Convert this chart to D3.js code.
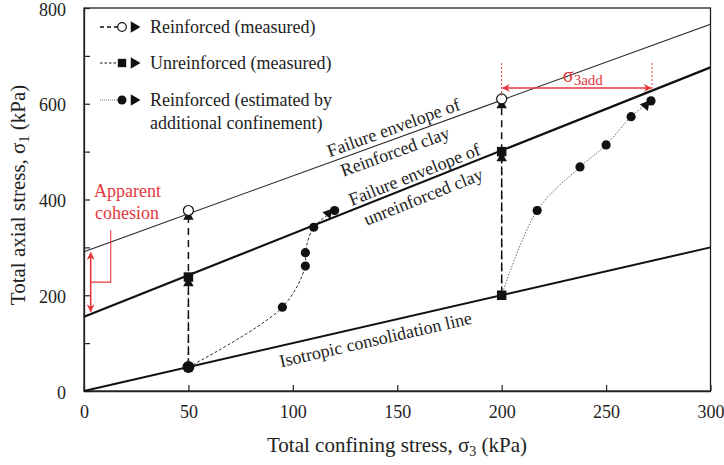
<!DOCTYPE html>
<html><head><meta charset="utf-8">
<script src="https://cdn.jsdelivr.net/npm/d3@7"></script>
<style>
html,body{margin:0;padding:0;background:#fff;}
svg{display:block;font-family:"Liberation Serif","Times New Roman",serif;}
</style></head><body>
<svg id="chart" width="724" height="465"></svg>
<script>
// axis ticks (kPa)
const xTicks = [0, 50, 100, 150, 200, 250, 300];
const yTicks = [0, 100, 200, 300, 400, 500, 600, 700, 800];
const yLabelled = [0, 200, 400, 600, 800];

// straight reference lines, [σ3, σ1] end points (kPa)
const consolidationLine = [[0, 0], [300, 300]];
const unreinforcedEnvelope = [[0, 155], [300, 676]];
const reinforcedEnvelope = [[0, 291], [300, 766]];

// measured tests: isotropic start state and state at failure
const startSigma3 = [50, 200];
const startSigma1 = [50, 200];
const reinforcedFailure = [377, 610];
const reinforcedArrow = [364, 597];
const unreinforcedFailure = [238, 500];
const unreinforcedArrow = [225, 486];

// reinforced, estimated by additional confinement
const estSigma3A = [95, 106, 106, 110, 120];
const estSigma1A = [175, 261, 289, 342, 377];
const estArrowA = [117, 371];
const estSigma3B = [217, 237.5, 250, 262, 271.5];
const estSigma1B = [377, 468, 514, 573, 606];
const estArrowB = [269, 597];

// annotations (kPa)
const cohesionArrow = {s3: 3.2, from: 166, to: 289, bracketS3: 12.8, bracketTop: 336};
const addConfinement = {from: 200, to: 272, s1: 633, guideTop: 685, guideBottom: [616, 628]};

const RED = "#e3373d";
const svg = d3.select("#chart");
const x = d3.scaleLinear().domain([0, 300]).range([84, 710.5]);
const y = d3.scaleLinear().domain([0, 800]).range([391, 8]);

// frame
svg.append("rect").attr("x", x(0)).attr("y", y(800))
  .attr("width", x(300) - x(0)).attr("height", y(0) - y(800))
  .attr("fill", "none").attr("stroke", "#222").attr("stroke-width", 1.3);

const xAxis = d3.axisBottom(x).tickValues(xTicks).tickSizeInner(-6).tickSizeOuter(0).tickPadding(14);
const gx = svg.append("g").attr("transform", `translate(0,${y(0)})`).call(xAxis);
const yAxis = d3.axisLeft(y).tickValues(yTicks).tickSizeInner(-6).tickSizeOuter(0).tickPadding(18)
  .tickFormat(d => yLabelled.includes(d) ? d : "");
const gy = svg.append("g").attr("transform", `translate(${x(0)},0)`).call(yAxis);
[gx, gy].forEach(g => {
  g.select(".domain").attr("stroke", "#222").attr("stroke-width", 1.3);
  g.selectAll(".tick line").attr("stroke", "#222").attr("stroke-width", 1.2);
  g.selectAll(".tick text").attr("font-family", "Liberation Serif").attr("font-size", 18).attr("fill", "#222");
});
gx.selectAll(".tick text").attr("dy", "0.71em");
gy.selectAll(".tick text").attr("dy", "0.4em");

// axis titles
const xt = svg.append("text").attr("x", 397).attr("y", 452).attr("text-anchor", "middle")
  .attr("font-size", 21).attr("fill", "#222");
xt.append("tspan").text("Total confining stress, σ");
xt.append("tspan").attr("font-size", 14).attr("dy", 4).text("3");
xt.append("tspan").attr("dy", -4).text(" (kPa)");
const yt = svg.append("text").attr("transform", `translate(25,${195}) rotate(-90)`)
  .attr("text-anchor", "middle").attr("font-size", 21).attr("fill", "#222");
yt.append("tspan").text("Total axial stress, σ");
yt.append("tspan").attr("font-size", 14).attr("dy", 4).text("1");
yt.append("tspan").attr("dy", -4).text(" (kPa)");

const line = d3.line().x(d => x(d[0])).y(d => y(d[1]));
const plot = svg.append("g");

// reference lines
plot.append("path").attr("d", line(consolidationLine)).attr("fill", "none").attr("stroke", "#111").attr("stroke-width", 2);
plot.append("path").attr("d", line(unreinforcedEnvelope)).attr("fill", "none").attr("stroke", "#111").attr("stroke-width", 2.2);
plot.append("path").attr("d", line(reinforcedEnvelope)).attr("fill", "none").attr("stroke", "#222").attr("stroke-width", 1.1);

// line labels, rotated along their line
function angleOf(seg) {
  return Math.atan2(y(seg[1][1]) - y(seg[0][1]), x(seg[1][0]) - x(seg[0][0])) * 180 / Math.PI;
}
function valueAt(seg, s3) {
  const k = (seg[1][1] - seg[0][1]) / (seg[1][0] - seg[0][0]);
  return seg[0][1] + k * (s3 - seg[0][0]);
}
function lineLabel(seg, s3, dy, txt) {
  svg.append("text")
    .attr("transform", `translate(${x(s3)},${y(valueAt(seg, s3))}) rotate(${angleOf(seg)})`)
    .attr("dy", dy).attr("text-anchor", "middle").attr("font-size", 18).attr("fill", "#222")
    .text(txt);
}
lineLabel(reinforcedEnvelope, 150, -5, "Failure envelope of");
lineLabel(reinforcedEnvelope, 147, 18, "Reinforced clay");
lineLabel(unreinforcedEnvelope, 160, -4, "Failure envelope of");
lineLabel(unreinforcedEnvelope, 160, 20, "unreinforced clay");
lineLabel(consolidationLine, 138, 21, "Isotropic consolidation line");

// measured stress paths (vertical, constant σ3)
startSigma3.forEach((s3, i) => {
  plot.append("path").attr("d", line([[s3, startSigma1[i]], [s3, unreinforcedFailure[i]]]))
    .attr("fill", "none").attr("stroke", "#111").attr("stroke-width", 1.3).attr("stroke-dasharray", "3,3");
  plot.append("path").attr("d", line([[s3, startSigma1[i]], [s3, reinforcedFailure[i]]]))
    .attr("fill", "none").attr("stroke", "#111").attr("stroke-width", 1.5).attr("stroke-dasharray", "7,5");
});

// estimated paths
const curve = d3.line().x(d => x(d[0])).y(d => y(d[1])).curve(d3.curveCatmullRom.alpha(0.5));
const estA = [[startSigma3[0], startSigma1[0]]].concat(estSigma3A.map((s, i) => [s, estSigma1A[i]]));
const estB = [[startSigma3[1], startSigma1[1]]].concat(estSigma3B.map((s, i) => [s, estSigma1B[i]]));
plot.append("path").attr("d", curve(estA)).attr("fill", "none").attr("stroke", "#333")
  .attr("stroke-width", 1).attr("stroke-dasharray", "3,2");
plot.append("path").attr("d", curve(estB)).attr("fill", "none").attr("stroke", "#555")
  .attr("stroke-width", 0.9).attr("stroke-dasharray", "1.5,1.5");

// markers
const tri = d3.symbol().type(d3.symbolTriangle).size(48);
const sq = d3.symbol().type(d3.symbolSquare).size(90);
function triangle(s3, s1, rot) {
  plot.append("path").attr("d", tri()).attr("fill", "#111")
    .attr("transform", `translate(${x(s3)},${y(s1)}) rotate(${rot})`);
}
startSigma3.forEach((s3, i) => {
  triangle(s3, unreinforcedArrow[i], 0);
  triangle(s3, reinforcedArrow[i], 0);
  plot.append("path").attr("d", sq()).attr("fill", "#111")
    .attr("transform", `translate(${x(s3)},${y(unreinforcedFailure[i])})`);
  plot.append("circle").attr("cx", x(s3)).attr("cy", y(reinforcedFailure[i])).attr("r", 5)
    .attr("fill", "#fff").attr("stroke", "#111").attr("stroke-width", 1.2);
});
plot.append("circle").attr("cx", x(startSigma3[0])).attr("cy", y(startSigma1[0])).attr("r", 6).attr("fill", "#111");
plot.append("path").attr("d", sq()).attr("fill", "#111")
  .attr("transform", `translate(${x(startSigma3[1])},${y(startSigma1[1])})`);
estA.slice(1).concat(estB.slice(1)).forEach(d => {
  plot.append("circle").attr("cx", x(d[0])).attr("cy", y(d[1])).attr("r", 4.6).attr("fill", "#111");
});
triangle(estArrowA[0], estArrowA[1], 160);
triangle(estArrowB[0], estArrowB[1], 160);

// red annotations
const defs = svg.append("defs");
defs.append("marker").attr("id", "head").attr("viewBox", "0 0 10 10").attr("refX", 9).attr("refY", 5)
  .attr("markerWidth", 5).attr("markerHeight", 5).attr("orient", "auto-start-reverse")
  .append("path").attr("d", "M0,0 L10,5 L0,10 L3,5 Z").attr("fill", RED);

const ca = cohesionArrow;
svg.append("line").attr("x1", x(ca.s3)).attr("x2", x(ca.s3)).attr("y1", y(ca.from)).attr("y2", y(ca.to))
  .attr("stroke", RED).attr("stroke-width", 1.6)
  .attr("marker-start", "url(#head)").attr("marker-end", "url(#head)");
const mid = (ca.from + ca.to) / 2;
svg.append("path")
  .attr("d", `M${x(ca.s3)},${y(mid)} H${x(ca.bracketS3)} V${y(ca.bracketTop)}`)
  .attr("fill", "none").attr("stroke", RED).attr("stroke-width", 1.1);
svg.append("text").attr("x", 94).attr("y", 197).attr("font-size", 18).attr("fill", RED).text("Apparent");
svg.append("text").attr("x", 95).attr("y", 219).attr("font-size", 18).attr("fill", RED).text("cohesion");

const ac = addConfinement;
[ac.from, ac.to].forEach((s3, i) => {
  svg.append("line").attr("x1", x(s3)).attr("x2", x(s3)).attr("y1", y(ac.guideTop)).attr("y2", y(ac.guideBottom[i]))
    .attr("stroke", RED).attr("stroke-width", 1).attr("stroke-dasharray", "2,2");
});
svg.append("line").attr("x1", x(ac.from) + 1).attr("x2", x(ac.to) - 1).attr("y1", y(ac.s1)).attr("y2", y(ac.s1))
  .attr("stroke", RED).attr("stroke-width", 1.6)
  .attr("marker-start", "url(#head)").attr("marker-end", "url(#head)");
const st = svg.append("text").attr("x", x((ac.from + ac.to) / 2) + 6).attr("y", 82)
  .attr("text-anchor", "middle").attr("font-size", 20).attr("fill", RED);
st.append("tspan").text("σ");
st.append("tspan").attr("font-size", 15).attr("dy", 3).text("3add");

// legend
const legend = svg.append("g");
const rows = [
  {yy: 27, dash: "4,3", w: 1.5, mark: "open", label: ["Reinforced (measured)"]},
  {yy: 63, dash: "2.5,2", w: 1.1, mark: "square", label: ["Unreinforced (measured)"]},
  {yy: 100, dash: "1,1", w: 0.9, mark: "dot", label: ["Reinforced (estimated by", "additional confinement)"]}
];
rows.forEach(r => {
  legend.append("line").attr("x1", 100).attr("x2", 118).attr("y1", r.yy).attr("y2", r.yy)
    .attr("stroke", r.mark === "dot" ? "#666" : "#111").attr("stroke-width", r.w).attr("stroke-dasharray", r.dash);
  if (r.mark === "open") legend.append("circle").attr("cx", 122).attr("cy", r.yy).attr("r", 4.3)
    .attr("fill", "#fff").attr("stroke", "#111").attr("stroke-width", 1.2);
  if (r.mark === "square") legend.append("path").attr("d", d3.symbol().type(d3.symbolSquare).size(70)())
    .attr("transform", `translate(122,${r.yy})`).attr("fill", "#111");
  if (r.mark === "dot") legend.append("circle").attr("cx", 122).attr("cy", r.yy).attr("r", 4.5).attr("fill", "#111");
  legend.append("path").attr("d", d3.symbol().type(d3.symbolTriangle).size(55)())
    .attr("transform", `translate(134,${r.yy}) rotate(90)`).attr("fill", "#111");
  r.label.forEach((t, k) => {
    legend.append("text").attr("x", 150).attr("y", r.yy + 6 + k * 23).attr("font-size", 18).attr("fill", "#222").text(t);
  });
});
</script>
</body></html>
